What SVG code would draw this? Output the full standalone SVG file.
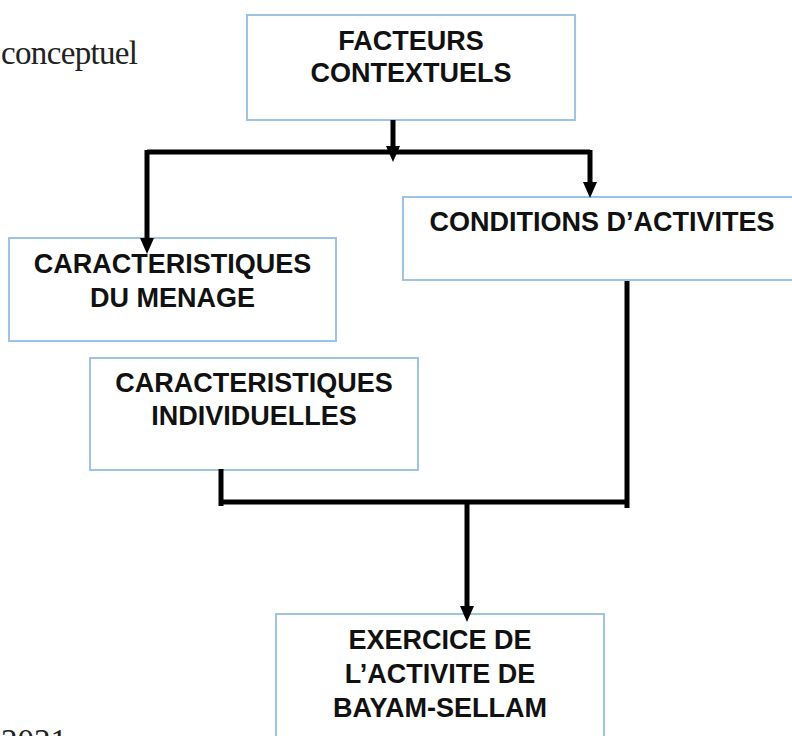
<svg xmlns="http://www.w3.org/2000/svg" width="792" height="736" viewBox="0 0 792 736">
<defs>
<style>
.box{fill:#fff;stroke:#9dc3e6;stroke-width:2}
.lbl{font-family:"Liberation Sans",Arial,sans-serif;font-weight:bold;font-size:27px;fill:#111;text-anchor:middle}
.con{fill:none;stroke:#000;stroke-width:5}
.cap{font-family:"Liberation Serif","Times New Roman",serif;font-size:33px;fill:#222}
</style>
<marker id="ah" markerUnits="userSpaceOnUse" markerWidth="16" markerHeight="14" refX="7" refY="7" orient="auto">
<path d="M0,0 L16,7 L0,14 z" fill="#000"/>
</marker>
</defs>
<rect width="792" height="736" fill="#fff"/>
<text class="cap" x="1" y="64" textLength="137">conceptuel</text>
<text class="cap" x="1" y="752">2021</text>
<g id="facteurs">
<rect class="box" x="247" y="15" width="328" height="105"/>
<text class="lbl" x="411" y="50">FACTEURS</text>
<text class="lbl" x="411" y="82">CONTEXTUELS</text>
</g>
<g id="conditions">
<rect class="box" x="403" y="197" width="400" height="83"/>
<text class="lbl" x="602" y="231">CONDITIONS D’ACTIVITES</text>
</g>
<g id="menage">
<rect class="box" x="9" y="238" width="327" height="103"/>
<text class="lbl" x="172.5" y="273">CARACTERISTIQUES</text>
<text class="lbl" x="172.5" y="307">DU MENAGE</text>
</g>
<g id="individuelles">
<rect class="box" x="90" y="358" width="328" height="112"/>
<text class="lbl" x="254" y="392">CARACTERISTIQUES</text>
<text class="lbl" x="254" y="425">INDIVIDUELLES</text>
</g>
<g id="exercice">
<rect class="box" x="276" y="614" width="328" height="140"/>
<text class="lbl" x="440" y="649">EXERCICE DE</text>
<text class="lbl" x="440" y="683">L’ACTIVITE DE</text>
<text class="lbl" x="440" y="717">BAYAM-SELLAM</text>
</g>
<g id="connectors">
<path class="con" d="M393,120 V153" marker-end="url(#ah)"/>
<path class="con" d="M147,152 H590"/>
<path class="con" d="M147,150 V245" marker-end="url(#ah)"/>
<path class="con" d="M590,150 V189" marker-end="url(#ah)"/>
<path class="con" d="M627,281 V508"/>
<path class="con" d="M221,469 V506"/>
<path class="con" d="M221,502 H627"/>
<path class="con" d="M467,502 V613" marker-end="url(#ah)"/>
</g>
</svg>
